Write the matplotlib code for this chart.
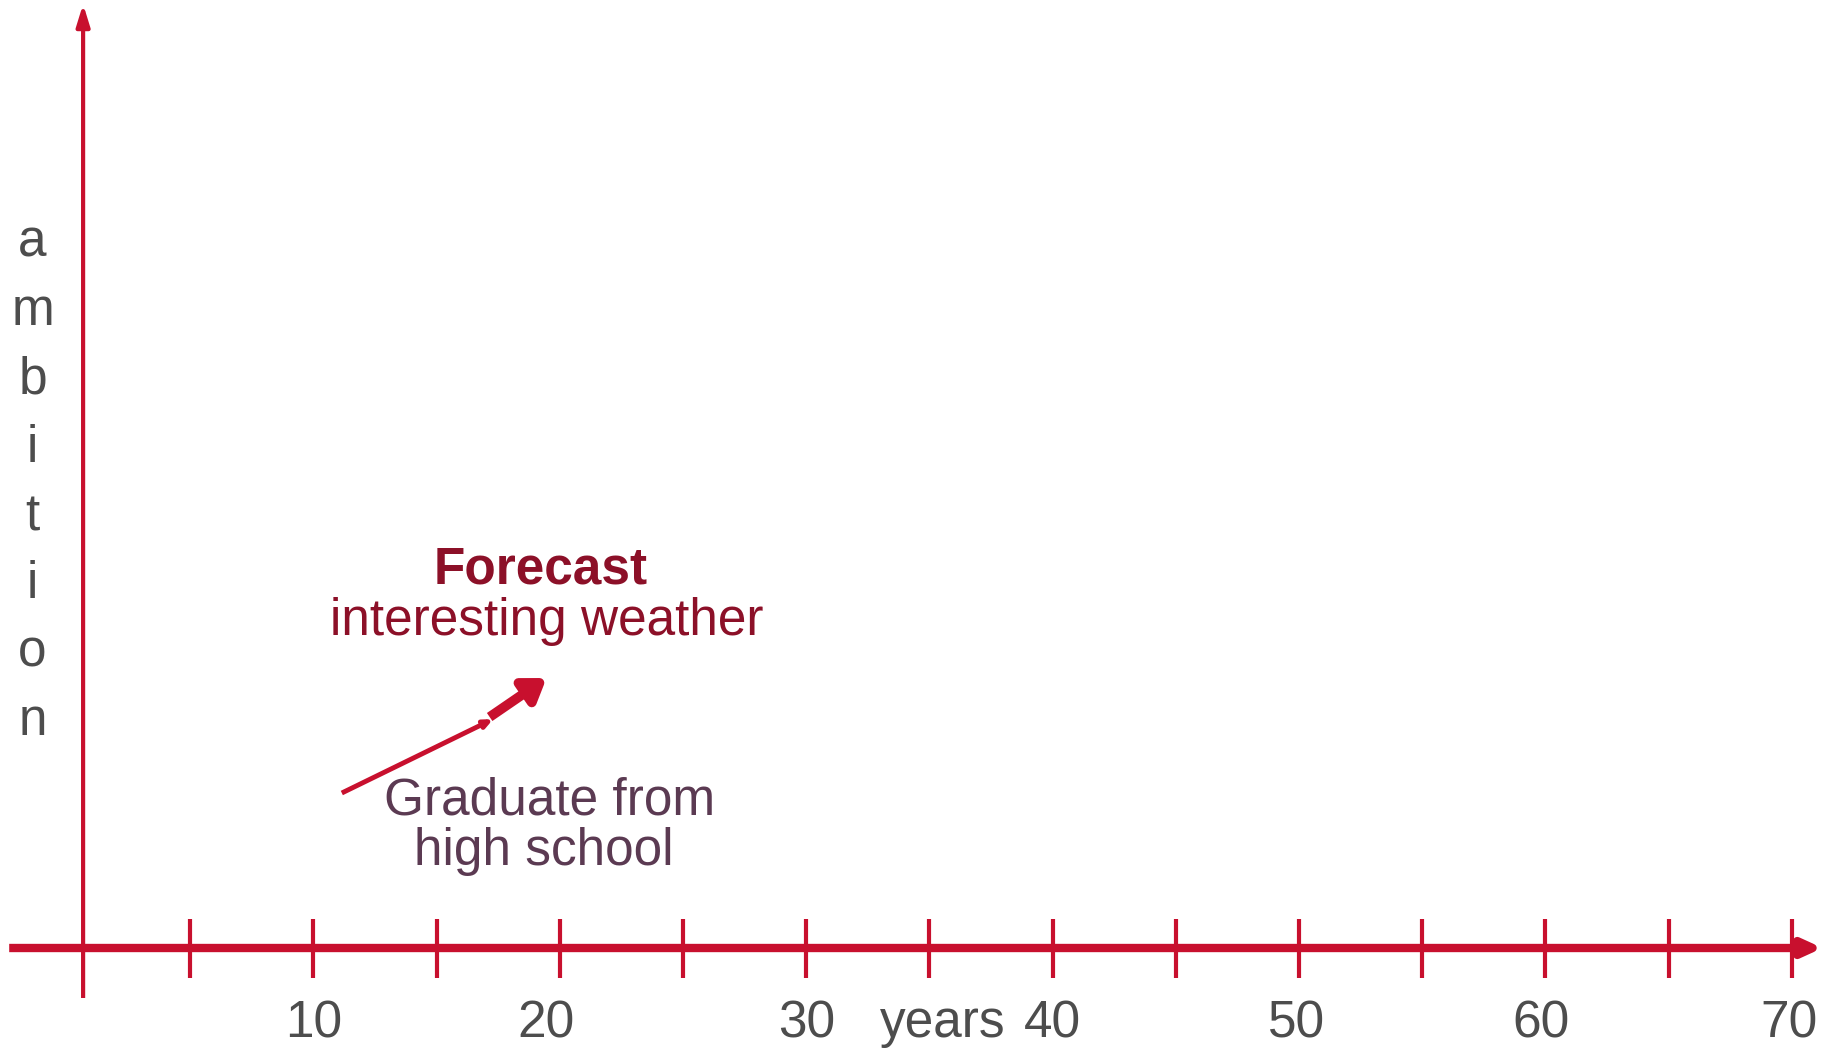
import matplotlib
matplotlib.use("Agg")
import matplotlib.pyplot as plt

plt.rcParams['font.family'] = ['Liberation Sans', 'DejaVu Sans']

# ---- data ----
tick_years = [5, 10, 15, 20, 25, 30, 35, 40, 45, 50, 55, 60, 65, 70]
label_years = [10, 19.45, 30, 40, 49.9, 59.8, 69.9]
label_texts = ["10", "20", "30", "40", "50", "60", "70"]
x_title = "years"
y_title = "ambition"
forecast_title = "Forecast"
forecast_text = "interesting weather"
event_lines = ["Graduate from", "high school"]
arrow_start = (11.15, 155)
arrow_mid = (17.3, 229)
arrow_tip = (19.46, 270)

AXIS = "#C8102E"
GRAY = "#4d4d4d"
DARKRED = "#8C1028"
PURPLE = "#5B3A52"
FS = 37

fig = plt.figure(figsize=(18.31, 10.53), dpi=100)
ax = fig.add_axes([0, 0, 1, 1])
ax.set_xlim(-2.723, 71.59)
ax.set_ylim(-105, 948)
ax.axis("off")

# x axis with arrow
ax.annotate("", xy=(71.25, 0), xytext=(-2.35, 0),
            arrowprops=dict(arrowstyle="-|>,head_length=1.1,head_width=0.5",
                            color=AXIS, lw=6, shrinkA=0, shrinkB=0,
                            capstyle="butt"))
# y axis with arrow
ax.annotate("", xy=(0.65, 944), xytext=(0.65, -50),
            arrowprops=dict(arrowstyle="-|>,head_length=1.3,head_width=0.4",
                            color=AXIS, lw=3, shrinkA=0, shrinkB=0,
                            capstyle="butt"))
# ticks
for t in tick_years:
    ax.plot([t, t], [-30, 29], color=AXIS, lw=3, solid_capstyle="butt")

# tick labels
for xv, s in zip(label_years, label_texts):
    ax.text(xv, -76, s, ha="center", va="center", fontsize=FS, color=GRAY)
ax.text(35.55, -76, x_title, ha="center", va="center", fontsize=FS, color=GRAY)

# vertical letters of y title
for i, ch in enumerate(y_title):
    ax.text(-1.40, 705 - i * 68.4, ch, ha="center", va="center",
            fontsize=FS, color=GRAY)

# annotations
ax.text(19.22, 378, forecast_title, ha="center", va="center", fontsize=FS,
        fontweight="bold", color=DARKRED)
ax.text(19.45, 327, forecast_text, ha="center", va="center", fontsize=FS,
        color=DARKRED)
ax.text(19.6, 147, event_lines[0], ha="center", va="center", fontsize=FS,
        color=PURPLE)
ax.text(19.36, 96, event_lines[1], ha="center", va="center", fontsize=FS,
        color=PURPLE)

# arrow: thin segment then thick segment
ax.annotate("", xy=arrow_mid, xytext=arrow_start,
            arrowprops=dict(arrowstyle="-|>,head_length=0.5,head_width=0.22",
                            color=AXIS, lw=3.5, shrinkA=0, shrinkB=0,
                            capstyle="butt"))
ax.annotate("", xy=arrow_tip, xytext=(arrow_mid[0] - 0.15, arrow_mid[1] + 2),
            arrowprops=dict(arrowstyle="-|>,head_length=1.25,head_width=0.85",
                            color=AXIS, lw=7, shrinkA=0, shrinkB=0,
                            capstyle="butt"))

fig.savefig("out.png", dpi=100, facecolor="white")
